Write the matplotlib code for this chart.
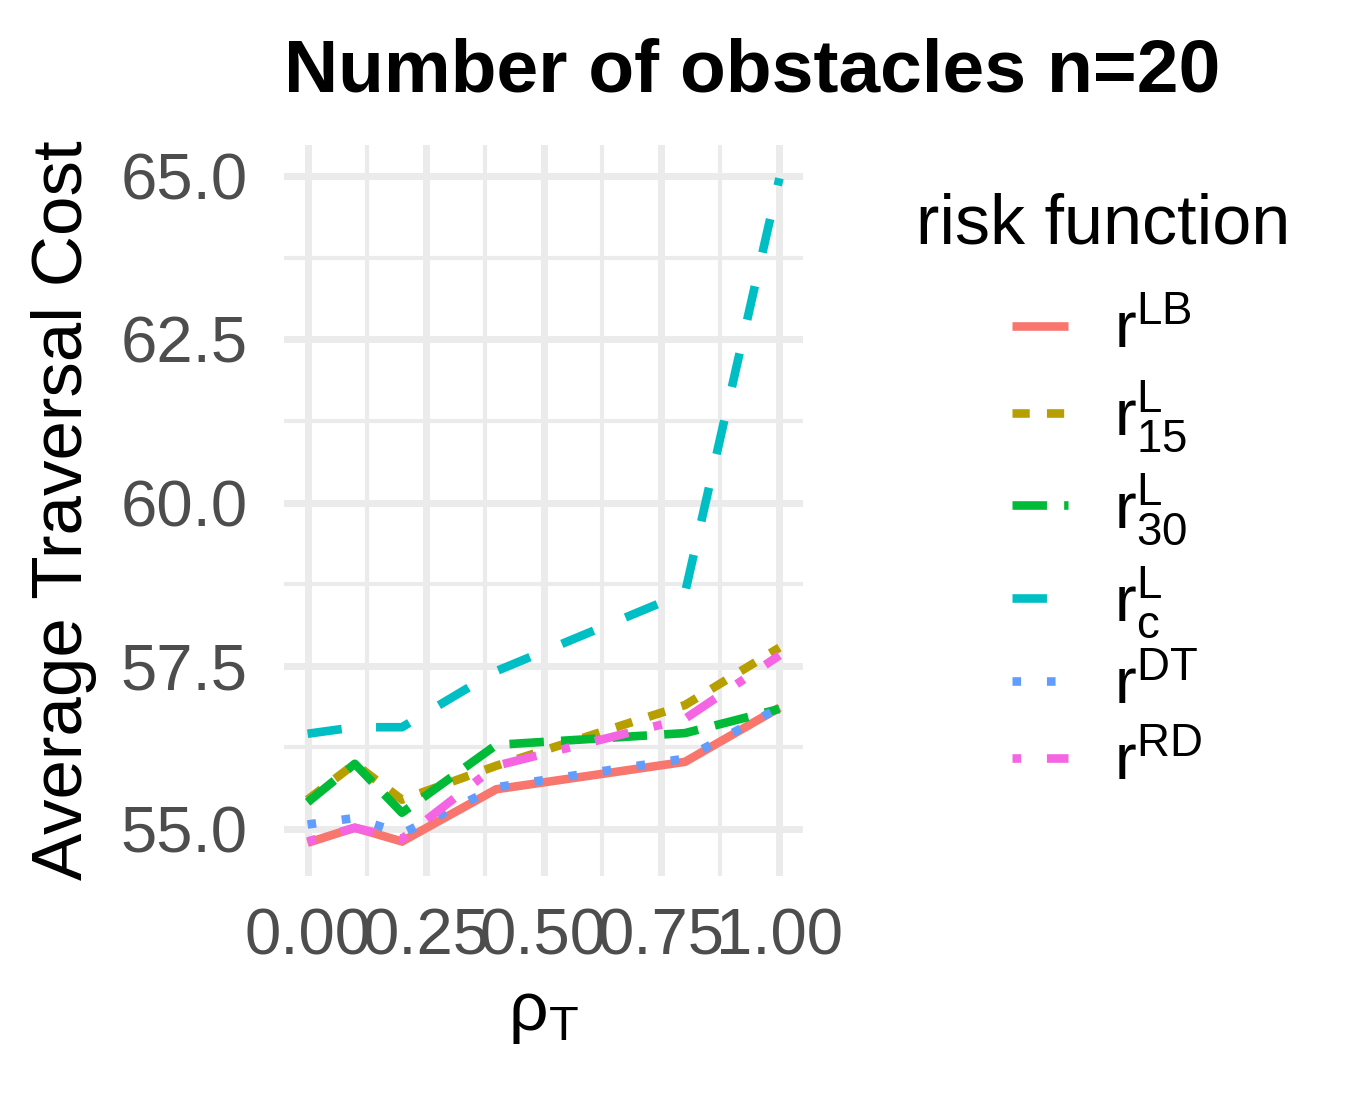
import matplotlib
matplotlib.use("Agg")
import matplotlib.pyplot as plt
from matplotlib.ticker import FixedLocator

plt.rcParams["font.family"] = ["Liberation Sans", "DejaVu Sans"]
plt.rcParams["mathtext.fontset"] = "custom"
plt.rcParams["mathtext.rm"] = "Liberation Sans"
plt.rcParams["mathtext.it"] = "Liberation Sans"

# values
rho_t = [0.0, 0.1, 0.2, 0.4, 0.8, 1.0]
cost_lb = [54.79, 55.02, 54.81, 55.61, 56.03, 56.86]
cost_l15 = [55.45, 56.00, 55.45, 55.97, 56.90, 57.78]
cost_l30 = [55.41, 56.00, 55.25, 56.29, 56.47, 56.84]
cost_lc = [56.46, 56.56, 56.56, 57.42, 58.62, 64.97]
cost_dt = [55.07, 55.17, 54.93, 55.64, 56.08, 56.86]
cost_rd = [54.81, 55.02, 54.85, 55.97, 56.69, 57.66]

series_labels = [
    r"$\mathregular{r^{LB}}$",
    r"$\mathregular{r_{15}^{L}}$",
    r"$\mathregular{r_{30}^{L}}$",
    r"$\mathregular{r_{c}^{L}}$",
    r"$\mathregular{r^{DT}}$",
    r"$\mathregular{r^{RD}}$",
]
x_ticks = [0.0, 0.25, 0.5, 0.75, 1.0]
x_tick_labels = ["0.00", "0.25", "0.50", "0.75", "1.00"]
y_ticks = [55.0, 57.5, 60.0, 62.5, 65.0]
y_tick_labels = ["55.0", "57.5", "60.0", "62.5", "65.0"]

# ggplot hue palette and linetype_pal() order
colors = ["#F8766D", "#B79F00", "#00BA38", "#00BFC4", "#619CFF", "#F564E3"]
dashes = [None, (2, 2), (4, 2), (4, 4), (1, 3), (1, 3, 4, 3)]


def main() -> None:
    fig = plt.figure(figsize=(13.68, 10.93), dpi=100)
    ax = fig.add_axes([284 / 1368, 217 / 1093, 519 / 1368, 731 / 1093])

    all_series = [cost_lb, cost_l15, cost_l30, cost_lc, cost_dt, cost_rd]
    handles = []
    for values, label, color, dash in zip(all_series, series_labels, colors, dashes):
        style = "-" if dash is None else (0, dash)
        (line,) = ax.plot(
            rho_t, values, color=color, linestyle=style, linewidth=6.2,
            label=label, solid_capstyle="butt", dash_capstyle="butt",
            solid_joinstyle="miter",
        )
        handles.append(line)

    ax.margins(x=0.05, y=0.05)
    ax.set_xticks(x_ticks)
    ax.set_xticklabels(x_tick_labels)
    ax.set_yticks(y_ticks)
    ax.set_yticklabels(y_tick_labels)
    ax.xaxis.set_minor_locator(FixedLocator([0.125, 0.375, 0.625, 0.875]))
    ax.yaxis.set_minor_locator(FixedLocator([56.25, 58.75, 61.25, 63.75]))

    ax.tick_params(which="both", length=0)
    ax.tick_params(axis="y", which="major", pad=26, labelsize=47, labelcolor="#4D4D4D")
    ax.tick_params(axis="x", which="major", pad=23, labelsize=47, labelcolor="#4D4D4D")
    for spine in ax.spines.values():
        spine.set_visible(False)

    ax.set_axisbelow(True)
    ax.grid(True, which="major", color="#EBEBEB", linewidth=5.0)
    ax.grid(True, which="minor", color="#EBEBEB", linewidth=3.0)

    ax.set_xlabel(r"$\mathregular{\rho_T}$", fontsize=50)
    ax.xaxis.set_label_coords(0.5, -0.145)
    ax.xaxis.label.set_va("top")
    ax.set_ylabel("Average Traversal Cost", fontsize=51)
    ax.yaxis.set_label_coords(-0.36, 0.5)

    fig.suptitle("Number of obstacles n=20", x=752 / 1368, y=1 - 92 / 1093,
                 va="baseline", fontsize=54, fontweight="bold")

    # legend title drawn separately so the gap below it matches ggplot's
    fig.text(1103 / 1368, 1 - 244 / 1093, "risk function", ha="center",
             va="baseline", fontsize=50.5)
    fig.legend(
        handles, series_labels,
        loc="upper left", bbox_to_anchor=(979 / 1368, 1 - 269 / 1093),
        frameon=False, fontsize=47,
        handlelength=0.87, handletextpad=0.7, labelspacing=0.25, borderpad=0,
    )

    fig.savefig("out.png", dpi=100, facecolor="white")


if __name__ == "__main__":
    main()
